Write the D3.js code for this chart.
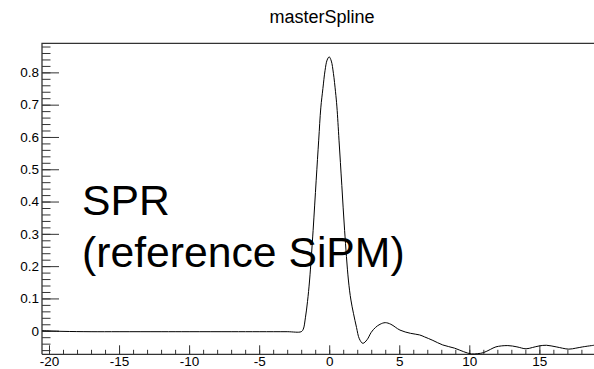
<!DOCTYPE html>
<html><head><meta charset="utf-8">
<script src="https://cdn.jsdelivr.net/npm/d3@7"></script>
<style>body{margin:0;background:#fff}svg{display:block}</style>
</head><body>
<svg id="c" width="594" height="369"></svg>
<script>
const title = "masterSpline";
const xMajorTicks = [-20, -15, -10, -5, 0, 5, 10, 15];
const yMajorTicks = [0, 0.1, 0.2, 0.3, 0.4, 0.5, 0.6, 0.7, 0.8];
const xMinorTicks = d3.range(-20, 19, 1);
const yMinorTicks = d3.range(-6, 89, 2).map(v => v / 100);
const xs = [-20.5, -19, -17, -15, -12, -10, -7, -5, -3, -2.0, -1.85, -1.7, -1.55, -1.4, -1.15, -0.93, -0.75, -0.6, -0.45, -0.3, -0.15, 0, 0.15, 0.3, 0.45, 0.55, 0.7, 0.9, 1.1, 1.37, 1.55, 1.73, 1.95, 2.15, 2.4, 2.7, 3.0, 3.3, 3.63, 4.0, 4.4, 5.05, 5.8, 6.45, 6.8, 7.4, 8.1, 8.95, 9.6, 10.15, 10.6, 11.0, 11.5, 11.9, 12.75, 13.4, 14.05, 14.5, 15.0, 15.5, 16.2, 17.1, 17.6, 18.1, 18.9];
const ys = [0.0, -0.002, -0.003, -0.003, -0.003, -0.003, -0.003, -0.003, -0.003, -0.003, 0.005, 0.04, 0.09, 0.157, 0.31, 0.466, 0.59, 0.69, 0.75, 0.805, 0.838, 0.848, 0.835, 0.797, 0.74, 0.693, 0.59, 0.45, 0.31, 0.157, 0.095, 0.054, 0.01, -0.025, -0.039, -0.028, -0.005, 0.01, 0.02, 0.025, 0.02, 0.002, -0.008, -0.013, -0.019, -0.03, -0.044, -0.054, -0.065, -0.072, -0.071, -0.068, -0.058, -0.05, -0.046, -0.05, -0.056, -0.052, -0.047, -0.045, -0.05, -0.057, -0.054, -0.05, -0.045];
const labelLines = ["SPR", "(reference SiPM)"];

const svg = d3.select("#c");
const L = 42, R = 594, T = 43.3, B = 354.3;
const x = d3.scaleLinear().domain([-20.5, 18.9]).range([L, R]);
const y = d3.scaleLinear().domain([-0.073, 0.89]).range([B, T]);
const font = "'Liberation Sans', Arial, Helvetica, sans-serif";
const fmt = d => String(d);

svg.append("text").attr("x", 322).attr("y", 23.3).attr("text-anchor", "middle")
  .attr("font-family", font).attr("font-size", 18).attr("fill", "#000").text(title);

// frame
svg.append("path").attr("d", `M${L},${B}V${T}H${R}`).attr("fill", "none").attr("stroke", "#333").attr("stroke-width", 1.3);
svg.append("path").attr("d", `M${L},${B}H${R}`).attr("fill", "none").attr("stroke", "#333").attr("stroke-width", 1.3);

function styleAxis(g) {
  g.select(".domain").remove();
  g.selectAll(".tick line").attr("stroke", "#333").attr("stroke-width", 1);
  g.selectAll("text").attr("font-family", font).attr("font-size", 13.5).attr("fill", "#000");
}
// y axis
svg.append("g").attr("transform", `translate(${L},0)`)
  .call(d3.axisLeft(y).tickValues(yMinorTicks).tickSize(-8.5).tickFormat(""))
  .call(styleAxis);
svg.append("g").attr("transform", `translate(${L},0)`)
  .call(d3.axisLeft(y).tickValues(yMajorTicks).tickSize(-17).tickPadding(3).tickFormat(fmt))
  .call(styleAxis);
// x axis
svg.append("g").attr("transform", `translate(0,${B})`)
  .call(d3.axisBottom(x).tickValues(xMinorTicks).tickSize(-4.5).tickFormat(""))
  .call(styleAxis);
svg.append("g").attr("transform", `translate(0,${B})`)
  .call(d3.axisBottom(x).tickValues(xMajorTicks).tickSize(-9).tickPadding(2.4).tickFormat(fmt))
  .call(styleAxis);

// curve
const pts = xs.map((v, i) => [v, ys[i]]);
svg.append("path").datum(pts)
  .attr("d", d3.line().x(d => x(d[0])).y(d => y(d[1])).curve(d3.curveCatmullRom.alpha(0.5)))
  .attr("fill", "none").attr("stroke", "#000").attr("stroke-width", 1);

// annotation
svg.append("text").attr("x", 82).attr("y", 215).attr("font-family", font).attr("font-size", 42.7).attr("fill", "#000").text(labelLines[0]);
svg.append("text").attr("x", 82).attr("y", 266.7).attr("font-family", font).attr("font-size", 42.7).attr("fill", "#000").text(labelLines[1]);
</script>
</body></html>
